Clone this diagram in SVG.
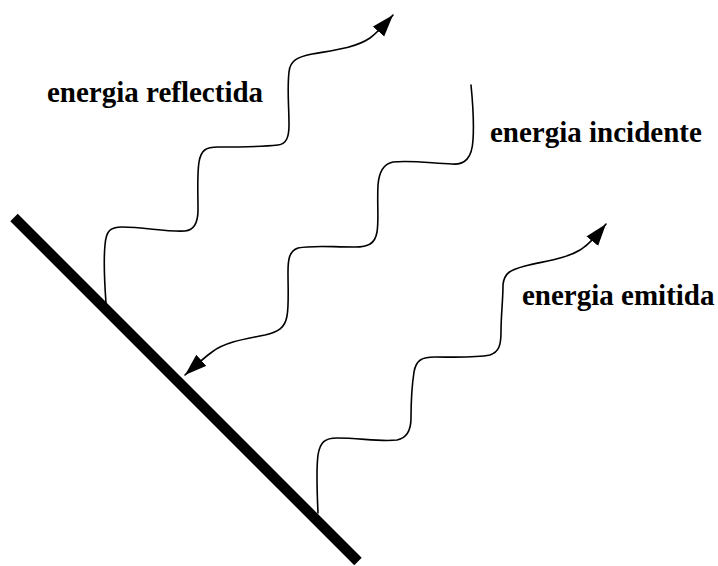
<svg xmlns="http://www.w3.org/2000/svg" width="718" height="566" viewBox="0 0 718 566">
<style>
.wave{fill:none;stroke:#000;stroke-width:1.6;stroke-linecap:round;stroke-linejoin:round}
.lbl{font-family:"Liberation Serif","Times New Roman",serif;font-weight:bold;font-size:29px;fill:#000}
</style>
<defs>
<marker id="ah" markerUnits="userSpaceOnUse" markerWidth="24" markerHeight="16" refX="22" refY="7.5" orient="auto">
<path d="M0,0 L22,7.5 L0,15 Z" fill="#000"/>
</marker>
</defs>
<rect width="718" height="566" fill="#fff"/>
<g id="surface">
<line x1="14" y1="217.5" x2="358" y2="561.5" stroke="#000" stroke-width="10.5"/>
</g>
<g id="connectors">
<path id="reflected" class="wave" marker-end="url(#ah)" d="M106,303 C104,275 104,255 105,245 C106,231 110,227 122,227 C145,227 165,232 185,231 C195,230 198,222 198,210 C198,190 197,175 199,162 C201,150 206,147 218,147 C240,147 260,147 278,145 C287,144 289,136 289,125 C289,105 287,90 289,72 C290,60 298,57 312,54 C335,50 355,48 370,38 C378,32 386,23 393,15"/>
<path id="incident" class="wave" marker-end="url(#ah)" d="M471,85 C473,105 474,125 473,140 C472,158 465,165 452,164 C430,163 410,160 393,162 C383,164 379,172 378,185 C377,205 379,220 377,232 C375,244 368,247 355,247 C330,247 312,245 298,248 C289,251 288,260 288,272 C288,290 289,305 287,316 C285,328 278,332 265,335 C245,339 225,342 212,352 C205,357 195,366 185,375"/>
<path id="emitted" class="wave" marker-end="url(#ah)" d="M318,513 C317,490 316,470 318,455 C320,442 325,438 337,438 C360,438 380,442 397,440 C407,438 411,430 411,418 C411,400 412,385 414,372 C416,360 422,357 435,357 C455,357 475,358 490,355 C499,352 501,345 501,332 C501,315 503,300 503,285 C504,273 510,270 525,266 C545,261 565,259 580,250 C590,244 598,234 606,224"/>
</g>
<g id="label-reflected"><text class="lbl" x="47" y="102">energia reflectida</text></g>
<g id="label-incident"><text class="lbl" x="490" y="142">energia incidente</text></g>
<g id="label-emitted"><text class="lbl" x="522" y="305">energia emitida</text></g>
</svg>
